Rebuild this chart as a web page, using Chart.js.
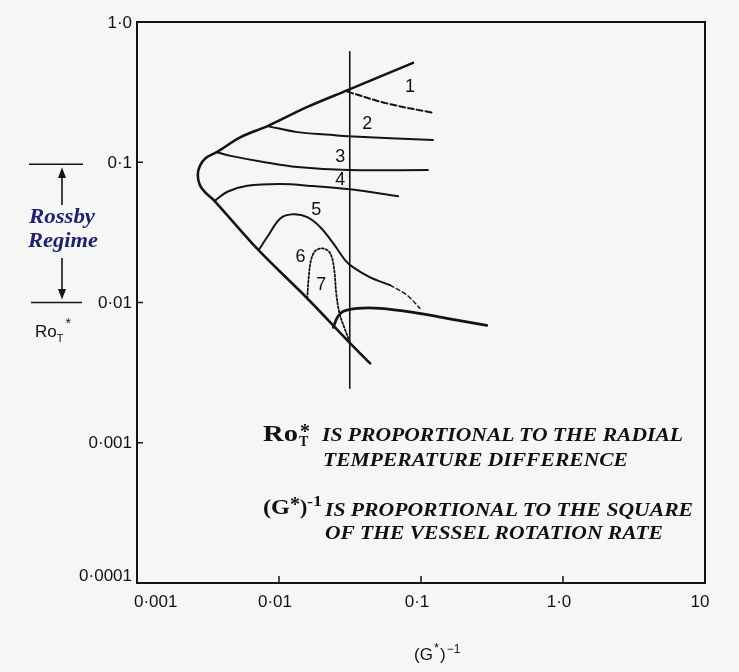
<!DOCTYPE html>
<html>
<head>
<meta charset="utf-8">
<script src="https://cdn.jsdelivr.net/npm/chart.js@4.4.1/dist/chart.umd.min.js"></script>
<style>
html,body{margin:0;padding:0;background:#f6f6f4;}
#wrap{position:relative;width:739px;height:672px;overflow:hidden;background:#f6f6f4;}
#c{position:absolute;left:0;top:0;}
.t{position:absolute;white-space:nowrap;line-height:1;transform-origin:0 0;color:#111;}
.serif{font-family:"Liberation Serif","Times New Roman",serif;font-weight:bold;}
.it{font-style:italic;}
.sans{font-family:"Liberation Sans",Arial,sans-serif;}
.navy{color:#20206e;}
.sp{position:relative;}
</style>
</head>
<body>
<div id="wrap">
<canvas id="c" width="739" height="672"></canvas>

<div class="t serif it navy" style="left:29px;top:205px;font-size:22px;" data-w="66">Rossby</div>
<div class="t serif it navy" style="left:28px;top:229px;font-size:22px;" data-w="70">Regime</div>

<div class="t sans" style="left:35px;top:323px;font-size:17px;">Ro<span class="sp" style="font-size:11px;top:5px;">T</span><span class="sp" style="font-size:14px;top:-9px;left:2px;">*</span></div>

<div class="t sans" style="left:414px;top:646px;font-size:17px;">(G<span class="sp" style="font-size:13px;top:-8px;left:1px;">*</span><span style="margin-left:2px;">)</span><span class="sp" style="font-size:12px;top:-7px;left:1px;">−1</span></div>

<div class="t serif" style="left:263px;top:420.9px;font-size:24px;" data-w="35">Ro</div>
<div class="t serif" style="left:299px;top:435.3px;font-size:14px;">T</div>
<div class="t serif" style="left:300px;top:420.8px;font-size:20px;">*</div>
<div class="t serif it" style="left:322px;top:425px;font-size:19px;" data-w="361">IS PROPORTIONAL TO THE RADIAL</div>
<div class="t serif it" style="left:323px;top:450px;font-size:19px;" data-w="305">TEMPERATURE DIFFERENCE</div>

<div class="t serif" style="left:263px;top:495.6px;font-size:22px;" data-w="27">(G</div>
<div class="t serif" style="left:290px;top:493.8px;font-size:20px;">*</div>
<div class="t serif" style="left:300px;top:495.6px;font-size:22px;">)</div>
<div class="t serif" style="left:307px;top:494.4px;font-size:15px;" data-w="15">-1</div>
<div class="t serif it" style="left:325px;top:500px;font-size:19px;" data-w="368">IS PROPORTIONAL TO THE SQUARE</div>
<div class="t serif it" style="left:325px;top:523px;font-size:19px;" data-w="338">OF THE VESSEL ROTATION RATE</div>
</div>

<script>
// ---- tick values / labels ----
const xTickValues = [0.001, 0.01, 0.1, 1, 10];
const xTickLabels = ['0·001', '0·01', '0·1', '1·0', '10'];
const yTickValues = [0.0001, 0.001, 0.01, 0.1, 1];
const yTickLabels = ['0·0001', '0·001', '0·01', '0·1', '1·0'];

// ---- curves ----
const envelopeX = [0.0879, 0.0307, 0.01585, 0.0083, 0.00537, 0.00364, 0.00305, 0.00277, 0.00268, 0.00277, 0.00305, 0.00347, 0.00718, 0.01585, 0.03175, 0.04386];
const envelopeY = [0.511, 0.328, 0.248, 0.181, 0.151, 0.118, 0.1072, 0.0940, 0.0811, 0.0689, 0.0604, 0.0538, 0.0236, 0.01068, 0.00511, 0.00368];
const curve1X = [0.0302, 0.0574, 0.1193];
const curve1Y = [0.319, 0.263, 0.226];
const curve2X = [0.0083, 0.01349, 0.02297, 0.03073, 0.1214];
const curve2Y = [0.181, 0.164, 0.157, 0.153, 0.144];
const curve3X = [0.00364, 0.00457, 0.00778, 0.01349, 0.03073, 0.1119];
const curve3Y = [0.118, 0.111, 0.1004, 0.0924, 0.0879, 0.0879];
const curve4X = [0.00358, 0.00433, 0.00598, 0.01025, 0.01746, 0.03175, 0.06902];
const curve4Y = [0.0537, 0.0616, 0.0679, 0.0699, 0.0676, 0.0641, 0.0573];
const curve5X = [0.00718, 0.00826, 0.01025, 0.01264, 0.01585, 0.01955, 0.02412, 0.0293, 0.03334, 0.04386, 0.0606];
const curve5Y = [0.0236, 0.0293, 0.0399, 0.0426, 0.0406, 0.0344, 0.0264, 0.0200, 0.0178, 0.0151, 0.0133];
const curve5TailX = [0.0606, 0.0798, 0.0984];
const curve5TailY = [0.0133, 0.01126, 0.00909];
const lowerX = [0.02412, 0.0258, 0.02837, 0.0356, 0.05155, 0.0879, 0.152, 0.2904];
const lowerY = [0.00665, 0.00784, 0.00865, 0.00909, 0.00909, 0.00851, 0.00772, 0.00688];
const loopX = [0.0158, 0.0162, 0.0168, 0.0180, 0.0204, 0.02297, 0.0245, 0.0253, 0.0267, 0.0293, 0.03175];
const loopY = [0.01066, 0.01521, 0.0200, 0.0233, 0.0243, 0.0224, 0.0170, 0.0116, 0.00834, 0.00634, 0.00511];
const verticalX = [0.0315, 0.0315];
const verticalY = [0.614, 0.00245];

const curveLabelText = ['1', '2', '3', '4', '5', '6', '7'];
const curveLabelX = [0.0837, 0.0418, 0.027, 0.027, 0.0183, 0.01416, 0.01988];
const curveLabelY = [0.344, 0.187, 0.109, 0.0747, 0.0457, 0.0211, 0.01333];

const zip = (xs, ys) => xs.map((x, i) => ({x, y: ys[i]}));
const INK = '#141414';

function ds(xs, ys, width, dash, tension) {
  return {
    data: zip(xs, ys), showLine: true, pointRadius: 0, borderColor: INK,
    borderWidth: width, borderDash: dash || [], tension: tension === undefined ? 0.35 : tension,
    fill: false, borderCapStyle: 'round', borderJoinStyle: 'round'
  };
}

const decorations = {
  id: 'decorations',
  afterDraw(chart) {
    const {ctx, chartArea: a, scales: {x, y}} = chart;
    ctx.save();
    ctx.strokeStyle = INK; ctx.fillStyle = '#111';
    // frame
    ctx.lineWidth = 2;
    ctx.strokeRect(a.left, a.top, a.right - a.left, a.bottom - a.top);
    // inward ticks
    ctx.lineWidth = 1.5;
    xTickValues.forEach(v => {
      const px = x.getPixelForValue(v);
      ctx.beginPath(); ctx.moveTo(px, a.bottom); ctx.lineTo(px, a.bottom - 7); ctx.stroke();
    });
    yTickValues.forEach(v => {
      const py = y.getPixelForValue(v);
      ctx.beginPath(); ctx.moveTo(a.left, py); ctx.lineTo(a.left + 6, py); ctx.stroke();
    });
    // tick labels
    ctx.font = '17px "Liberation Sans", Arial, sans-serif';
    ctx.textBaseline = 'top';
    xTickLabels.forEach((t, i) => {
      const px = x.getPixelForValue(xTickValues[i]);
      if (i === 0) { ctx.textAlign = 'left'; ctx.fillText(t, a.left - 3, a.bottom + 11); }
      else if (i === xTickLabels.length - 1) { ctx.textAlign = 'center'; ctx.fillText(t, px - 5, a.bottom + 11); }
      else { ctx.textAlign = 'center'; ctx.fillText(t, px - 4, a.bottom + 11); }
    });
    ctx.textAlign = 'right';
    yTickLabels.forEach((t, i) => {
      const py = y.getPixelForValue(yTickValues[i]);
      if (i === 0) { ctx.textBaseline = 'bottom'; ctx.fillText(t, a.left - 5, py + 2); }
      else { ctx.textBaseline = 'middle'; ctx.fillText(t, a.left - 5, py + 1); }
    });
    // curve number labels
    ctx.font = '18px "Liberation Sans", Arial, sans-serif';
    ctx.textAlign = 'center'; ctx.textBaseline = 'middle';
    curveLabelText.forEach((t, i) => {
      ctx.fillText(t, x.getPixelForValue(curveLabelX[i]), y.getPixelForValue(curveLabelY[i]));
    });
    // Rossby regime markers
    const yTop = y.getPixelForValue(0.1) + 2;
    const yBot = y.getPixelForValue(0.01);
    ctx.lineWidth = 1.6;
    ctx.beginPath(); ctx.moveTo(29, yTop); ctx.lineTo(83, yTop); ctx.stroke();
    ctx.beginPath(); ctx.moveTo(31, yBot); ctx.lineTo(82, yBot); ctx.stroke();
    // up arrow
    ctx.beginPath(); ctx.moveTo(62, 205); ctx.lineTo(62, 176); ctx.stroke();
    ctx.beginPath(); ctx.moveTo(62, yTop + 3); ctx.lineTo(58, 178); ctx.lineTo(66, 178); ctx.closePath(); ctx.fill();
    // down arrow
    ctx.beginPath(); ctx.moveTo(62, 258); ctx.lineTo(62, 290); ctx.stroke();
    ctx.beginPath(); ctx.moveTo(62, yBot - 3); ctx.lineTo(58, 289); ctx.lineTo(66, 289); ctx.closePath(); ctx.fill();
    ctx.restore();
  }
};

new Chart(document.getElementById('c'), {
  type: 'scatter',
  data: {
    datasets: [
      ds(envelopeX, envelopeY, 2.6),
      ds(curve1X, curve1Y, 2, [6, 3]),
      ds(curve2X, curve2Y, 2),
      ds(curve3X, curve3Y, 2),
      ds(curve4X, curve4Y, 2),
      ds(curve5X, curve5Y, 2),
      ds(curve5TailX, curve5TailY, 1.4, [4, 3]),
      ds(lowerX, lowerY, 2.8),
      ds(loopX, loopY, 1.8, [2, 2]),
      ds(verticalX, verticalY, 1.6, [], 0)
    ]
  },
  options: {
    responsive: false,
    animation: false,
    events: [],
    layout: {padding: {top: 22, right: 34, left: 0, bottom: 0}},
    plugins: {legend: {display: false}, tooltip: {enabled: false}},
    scales: {
      x: {
        type: 'logarithmic', min: 0.001, max: 10, position: 'bottom',
        grid: {display: false}, border: {display: false}, ticks: {display: false},
        afterBuildTicks: s => { s.ticks = xTickValues.map(v => ({value: v})); },
        afterFit: s => { s.height = 89; }
      },
      y: {
        type: 'logarithmic', min: 0.0001, max: 1, position: 'left',
        grid: {display: false}, border: {display: false}, ticks: {display: false},
        afterBuildTicks: s => { s.ticks = yTickValues.map(v => ({value: v})); },
        afterFit: s => { s.width = 137; }
      }
    }
  },
  plugins: [decorations]
});

function fitText() {
  document.querySelectorAll('[data-w]').forEach(el => {
    el.style.transform = 'none';
    const w = el.getBoundingClientRect().width;
    const t = +el.dataset.w;
    if (w > 0) el.style.transform = 'scaleX(' + (t / w).toFixed(4) + ')';
  });
}
fitText();
if (document.fonts && document.fonts.ready) document.fonts.ready.then(fitText);
</script>
</body>
</html>
